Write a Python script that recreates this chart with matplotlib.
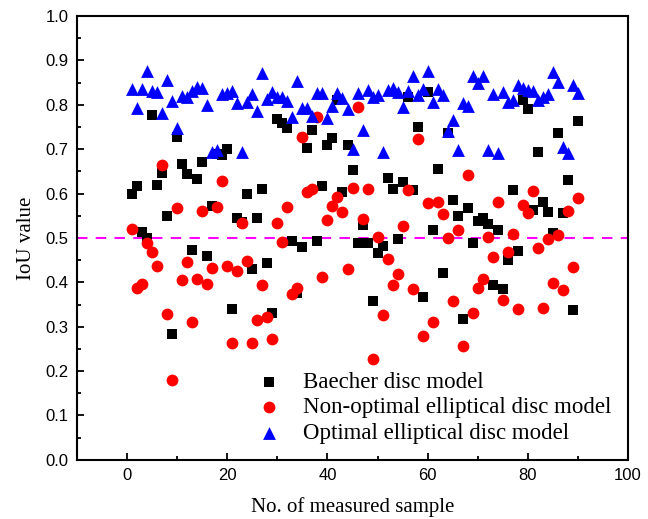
import matplotlib
matplotlib.use("Agg")
import matplotlib.pyplot as plt
from matplotlib.ticker import MultipleLocator, FormatStrFormatter

# sample index 1..90
samples = list(range(1, 91))

baecher = [0.598, 0.616, 0.513, 0.500, 0.777, 0.620, 0.647, 0.550, 0.283, 0.728,
           0.667, 0.645, 0.473, 0.633, 0.672, 0.460, 0.573, 0.689, 0.687, 0.700,
           0.341, 0.544, 0.537, 0.600, 0.430, 0.546, 0.610, 0.443, 0.330, 0.769,
           0.760, 0.748, 0.494, 0.377, 0.479, 0.702, 0.743, 0.494, 0.618, 0.709,
           0.726, 0.811, 0.604, 0.709, 0.653, 0.489, 0.529, 0.488, 0.357, 0.467,
           0.482, 0.636, 0.610, 0.497, 0.625, 0.817, 0.608, 0.749, 0.366, 0.828,
           0.518, 0.656, 0.420, 0.737, 0.586, 0.550, 0.318, 0.568, 0.488, 0.538,
           0.546, 0.531, 0.394, 0.518, 0.384, 0.450, 0.607, 0.471, 0.811, 0.791,
           0.563, 0.694, 0.580, 0.559, 0.512, 0.736, 0.557, 0.631, 0.338, 0.764]

non_optimal = [0.520, 0.388, 0.397, 0.488, 0.468, 0.437, 0.665, 0.329, 0.180, 0.567,
               0.405, 0.446, 0.310, 0.408, 0.561, 0.396, 0.432, 0.570, 0.628, 0.437,
               0.263, 0.426, 0.534, 0.447, 0.263, 0.315, 0.393, 0.321, 0.273, 0.534,
               0.490, 0.570, 0.374, 0.387, 0.727, 0.604, 0.610, 0.772, 0.411, 0.541,
               0.571, 0.593, 0.558, 0.429, 0.612, 0.796, 0.543, 0.610, 0.227, 0.503,
               0.327, 0.452, 0.394, 0.419, 0.526, 0.608, 0.384, 0.723, 0.279, 0.578,
               0.311, 0.580, 0.554, 0.501, 0.359, 0.518, 0.257, 0.643, 0.330, 0.387,
               0.407, 0.503, 0.457, 0.580, 0.360, 0.468, 0.508, 0.339, 0.574, 0.556,
               0.606, 0.477, 0.343, 0.497, 0.399, 0.507, 0.383, 0.561, 0.435, 0.589]

optimal = [0.835, 0.792, 0.836, 0.877, 0.832, 0.829, 0.782, 0.857, 0.808, 0.747,
           0.820, 0.817, 0.832, 0.840, 0.837, 0.799, 0.694, 0.698, 0.824, 0.826,
           0.831, 0.805, 0.694, 0.807, 0.824, 0.786, 0.872, 0.814, 0.829, 0.818,
           0.817, 0.809, 0.772, 0.854, 0.792, 0.792, 0.775, 0.826, 0.827, 0.770,
           0.797, 0.827, 0.815, 0.790, 0.700, 0.827, 0.743, 0.833, 0.817, 0.822,
           0.693, 0.833, 0.839, 0.829, 0.796, 0.832, 0.865, 0.823, 0.835, 0.876,
           0.807, 0.835, 0.822, 0.740, 0.766, 0.698, 0.805, 0.798, 0.865, 0.850,
           0.865, 0.698, 0.824, 0.692, 0.829, 0.807, 0.811, 0.845, 0.837, 0.833,
           0.832, 0.811, 0.817, 0.824, 0.875, 0.852, 0.706, 0.691, 0.845, 0.826]

threshold = 0.5

serif = ["Liberation Serif", "DejaVu Serif"]
sans = ["Liberation Sans", "DejaVu Sans"]

fig = plt.figure(figsize=(6.48, 5.19), dpi=100)
ax = fig.add_axes([0.119, 0.114, 0.850, 0.855])

ax.scatter(samples, baecher, marker="s", s=52, color="black", linewidths=0,
           label="Baecher disc model", zorder=3)
ax.scatter(samples, non_optimal, marker="o", s=72, color="red", linewidths=0,
           label="Non-optimal elliptical disc model", zorder=4)
ax.scatter(samples, optimal, marker="^", s=85, color="blue", linewidths=0,
           label="Optimal elliptical disc model", zorder=5)

ax.axhline(threshold, color="#FF00FF", linestyle=(0, (5, 4)), linewidth=1.5, zorder=2)

ax.set_xlim(-10, 100)
ax.set_ylim(0, 1.0)
ax.xaxis.set_major_locator(MultipleLocator(20))
ax.xaxis.set_minor_locator(MultipleLocator(10))
ax.yaxis.set_major_locator(MultipleLocator(0.1))
ax.yaxis.set_minor_locator(MultipleLocator(0.05))
ax.yaxis.set_major_formatter(FormatStrFormatter("%.1f"))

ax.tick_params(which="both", direction="in", top=False, right=False, width=1.3)
ax.tick_params(which="major", length=5, labelsize=12, pad=6)
ax.tick_params(which="minor", length=3)
for lab in ax.get_xticklabels() + ax.get_yticklabels():
    lab.set_family(sans)
for sp in ax.spines.values():
    sp.set_linewidth(1.5)

ax.set_xlabel("No. of measured sample", family=serif, fontsize=15, labelpad=10)
ax.set_ylabel("IoU value", family=serif, fontsize=15, labelpad=7)

ax.legend(loc="lower right", bbox_to_anchor=(1.0, 0.0), frameon=False,
          prop={"family": serif, "size": 16.5}, scatterpoints=1,
          labelspacing=0.2, handletextpad=0.5, borderaxespad=0.3)

fig.savefig("out.png", dpi=100)
